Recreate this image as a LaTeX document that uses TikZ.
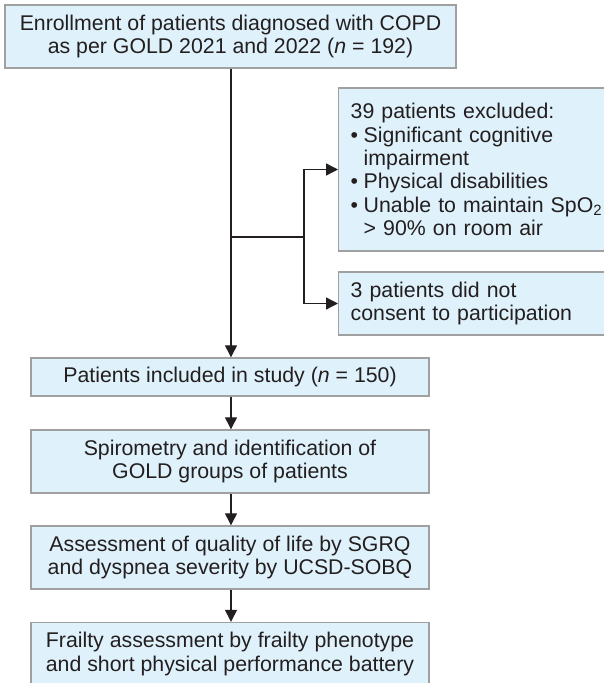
\documentclass[tikz,border=0pt]{standalone}
\usepackage{fontspec}
\setmainfont{Liberation Sans}
\usetikzlibrary{arrows.meta}
\definecolor{boxfill}{HTML}{DFF1FA}
\definecolor{boxline}{HTML}{A0A0A0}
\definecolor{ink}{HTML}{231F20}
\newcommand{\bul}{\makebox[13pt][l]{•}}
\newcommand{\bulind}{\hspace*{13pt}}
\begin{document}
\begin{tikzpicture}[x=1pt,y=-1pt,
  every node/.style={font=\fontsize{21.3}{23.4}\selectfont, text=ink},
  flowbox/.style={draw=boxline, fill=boxfill, line width=1.4pt, inner sep=0pt, align=center, anchor=center},
  sidebox/.style={draw=boxline, fill=boxfill, line width=1.4pt, inner xsep=12pt, inner ysep=0pt, align=left, anchor=west, text width=256pt, minimum width=280pt},
  conn/.style={draw=ink, line width=1.3pt},
  arr/.style={conn, -{Triangle[length=12pt,width=12pt]}}]
\useasboundingbox (0,0) rectangle (603,683);
\fill[white] (0,0) rectangle (603,683);
\node[flowbox, minimum width=451pt, minimum height=63pt] (top) at (230.5,36.5)
  {Enrollment of patients diagnosed with COPD\\as per GOLD 2021 and 2022 (\textit{n} = 192)};
\node[sidebox, minimum height=163pt] (ex1) at (338,169.5)
  {39 patients excluded:\\
   \bul Significant cognitive\\
   \bulind impairment\\
   \bul Physical disabilities\\
   \bul Unable to maintain SpO\textsubscript{2}\\
   \bulind > 90\% on room air};
\node[sidebox, minimum height=63pt] (ex2) at (338,303.5)
  {3 patients did not\\consent to participation};
\node[flowbox, minimum width=398pt, minimum height=38pt] (pat) at (230,377)
  {Patients included in study (\textit{n} = 150)};
\node[flowbox, minimum width=398pt, minimum height=63pt] (spi) at (230,461.5)
  {Spirometry and identification of\\GOLD groups of patients};
\node[flowbox, minimum width=398pt, minimum height=63pt] (qol) at (230,557.5)
  {Assessment of quality of life by SGRQ\\and dyspnea severity by UCSD-SOBQ};
\node[flowbox, minimum width=398pt, minimum height=63pt] (fra) at (230,654)
  {Frailty assessment by frailty phenotype\\and short physical performance battery};
\coordinate (j) at (231,237);
\coordinate (b) at (304,237);
\draw[arr] (top.south -| j) -- (pat.north -| j);
\draw[conn] (j) -- (b);
\draw[arr] (b) |- (ex1.west);
\draw[arr] (b) |- (ex2.west);
\draw[arr] (pat.south -| j) -- (spi.north -| j);
\draw[arr] (spi.south -| j) -- (qol.north -| j);
\draw[arr] (qol.south -| j) -- (fra.north -| j);
\end{tikzpicture}
\end{document}
